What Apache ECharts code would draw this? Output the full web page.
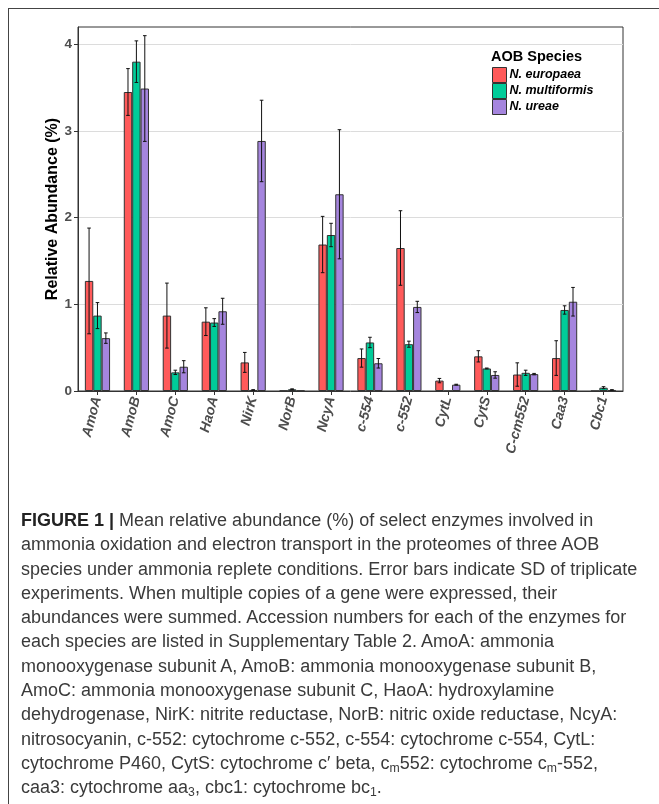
<!DOCTYPE html>
<html>
<head>
<meta charset="utf-8">
<script src="https://cdn.jsdelivr.net/npm/echarts@6/dist/echarts.min.js"></script>
<style>
  html, body { margin: 0; padding: 0; background: #fff; }
  #wrap { position: relative; width: 659px; height: 804px; overflow: hidden; background: #fff; }
  #frame { position: absolute; left: 8px; top: 8px; width: 760px; height: 900px; border: 1px solid #444; box-sizing: border-box; }
  #chart { position: absolute; left: 0; top: 0; width: 659px; height: 804px; }
  #caption { position: absolute; left: 21px; top: 508px; font-family: 'Liberation Sans', Arial, sans-serif; font-size: 18px; line-height: 24.3px; color: #3a3a3a; }
  #caption div { white-space: nowrap; }
  #caption b { font-weight: bold; color: #222; }
  #caption sub { font-size: 0.68em; vertical-align: -0.25em; line-height: 0; }
</style>
</head>
<body>
<div id="wrap">
  <div id="frame"></div>
  <div id="chart"></div>
  <div id="caption">
    <div><b>FIGURE 1 |</b> Mean relative abundance (%) of select enzymes involved in</div>
    <div>ammonia oxidation and electron transport in the proteomes of three AOB</div>
    <div>species under ammonia replete conditions. Error bars indicate SD of triplicate</div>
    <div>experiments. When multiple copies of a gene were expressed, their</div>
    <div>abundances were summed. Accession numbers for each of the enzymes for</div>
    <div>each species are listed in Supplementary Table 2. AmoA: ammonia</div>
    <div>monooxygenase subunit A, AmoB: ammonia monooxygenase subunit B,</div>
    <div>AmoC: ammonia monooxygenase subunit C, HaoA: hydroxylamine</div>
    <div>dehydrogenase, NirK: nitrite reductase, NorB: nitric oxide reductase, NcyA:</div>
    <div>nitrosocyanin, c-552: cytochrome c-552, c-554: cytochrome c-554, CytL:</div>
    <div>cytochrome P460, CytS: cytochrome c′ beta, c<sub>m</sub>552: cytochrome c<sub>m</sub>-552,</div>
    <div>caa3: cytochrome aa<sub>3</sub>, cbc1: cytochrome bc<sub>1</sub>.</div>
  </div>
</div>
<script>
// ---- data ----
const categories = ['AmoA','AmoB','AmoC','HaoA','NirK','NorB','NcyA','c-554','c-552','CytL','CytS','C-cm552','Caa3','Cbc1'];
const seriesNames = ['N. europaea','N. multiformis','N. ureae'];
const europaea      = [1.27, 3.45, 0.87, 0.80, 0.33, 0.003, 1.69, 0.38, 1.65, 0.12, 0.40, 0.19, 0.38, 0.0];
const europaeaSD    = [0.61, 0.27, 0.375, 0.16, 0.115, 0, 0.325, 0.105, 0.43, 0.025, 0.065, 0.135, 0.20, 0];
const multiformis   = [0.87, 3.80, 0.215, 0.79, 0.012, 0.02, 1.80, 0.56, 0.54, 0.0, 0.26, 0.21, 0.935, 0.038];
const multiformisSD = [0.15, 0.24, 0.025, 0.045, 0.003, 0.005, 0.135, 0.06, 0.035, 0, 0.005, 0.03, 0.048, 0.012];
const ureae         = [0.61, 3.49, 0.28, 0.92, 2.885, 0.003, 2.27, 0.32, 0.97, 0.073, 0.185, 0.195, 1.03, 0.012];
const ureaeSD       = [0.06, 0.61, 0.07, 0.15, 0.47, 0, 0.745, 0.055, 0.065, 0.005, 0.037, 0.008, 0.165, 0.003];
const yTicks = [0, 1, 2, 3, 4];

// ---- styles ----
const colors = ['#FF5A5A', '#00CC99', '#A585DE'];
const BAR_W = 8.4;
const FONT = "'Liberation Sans', Arial, sans-serif";

const means = [europaea, multiformis, ureae];
const sds = [europaeaSD, multiformisSD, ureaeSD];

function errRenderer(k) {
  return function (params, api) {
    const c = api.value(0), m = api.value(1), s = api.value(2);
    if (!(s > 0)) return;
    const base = api.coord([c, m]);
    const x = base[0] + (k - 1) * BAR_W;
    const yHi = api.coord([c, m + s])[1];
    const yLo = api.coord([c, m - s])[1];
    const cap = 1.8;
    const st = { stroke: '#111', lineWidth: 1 };
    return {
      type: 'group',
      children: [
        { type: 'line', shape: { x1: x, y1: yHi, x2: x, y2: yLo }, style: st },
        { type: 'line', shape: { x1: x - cap, y1: yHi, x2: x + cap, y2: yHi }, style: st },
        { type: 'line', shape: { x1: x - cap, y1: yLo, x2: x + cap, y2: yLo }, style: st }
      ]
    };
  };
}

const series = [];
for (let k = 0; k < 3; k++) {
  series.push({
    name: seriesNames[k],
    type: 'bar',
    data: means[k],
    barWidth: BAR_W,
    barGap: '0%',
    itemStyle: { color: colors[k], borderColor: '#333', borderWidth: 1 },
    emphasis: { disabled: true },
    z: 2
  });
}
for (let k = 0; k < 3; k++) {
  series.push({
    type: 'custom',
    name: 'err' + k,
    renderItem: errRenderer(k),
    data: means[k].map((m, i) => [i, m, sds[k][i]]),
    encode: { x: 0, y: 1 },
    z: 5,
    silent: true
  });
}

const chart = echarts.init(document.getElementById('chart'), null, { renderer: 'canvas' });
chart.setOption({
  animation: false,
  backgroundColor: 'transparent',
  textStyle: { fontFamily: FONT },
  title: {
    text: 'AOB Species',
    left: 491, top: 49, padding: 0,
    textStyle: { fontFamily: FONT, fontSize: 14.5, fontWeight: 'bold', color: '#000' }
  },
  legend: {
    data: seriesNames,
    orient: 'vertical',
    left: 492, top: 67, padding: 0,
    itemWidth: 14, itemHeight: 15, itemGap: 0,
    icon: 'rect',
    itemStyle: { borderColor: '#333', borderWidth: 1 },
    textStyle: { fontFamily: FONT, fontSize: 12.5, fontStyle: 'italic', fontWeight: 'bold', color: '#000', padding: [0, 0, 0, -2] }
  },
  grid: { left: 78, right: 36, top: 27, bottom: 413, show: true, borderColor: '#333', borderWidth: 1, backgroundColor: 'transparent' },
  xAxis: {
    type: 'category',
    data: categories,
    axisLine: { show: true, lineStyle: { color: '#333', width: 1 } },
    axisTick: { show: true, alignWithLabel: true, length: 4, lineStyle: { color: '#333' } },
    axisLabel: { rotate: 75, margin: 6, interval: 0, fontFamily: FONT, fontSize: 14, fontWeight: 'bold', fontStyle: 'italic', color: '#4d4d4d' },
    splitLine: { show: false }
  },
  yAxis: {
    type: 'value',
    min: 0, max: 4.2, interval: 1,
    name: 'Relative Abundance (%)',
    nameLocation: 'middle',
    nameGap: 17,
    nameMoveOverlap: false,
    nameTextStyle: { fontFamily: FONT, fontSize: 16, fontWeight: 'bold', color: '#000' },
    axisLine: { show: true, lineStyle: { color: '#333', width: 1 } },
    axisTick: { show: true, length: 4, lineStyle: { color: '#333' }, customValues: yTicks },
    axisLabel: { margin: 6, fontFamily: FONT, fontSize: 13.5, fontWeight: 'bold', color: '#4d4d4d', customValues: yTicks, formatter: v => String(v) },
    splitLine: { show: true, lineStyle: { color: '#dcdcdc', width: 1 } }
  },
  series: series
});
</script>
</body>
</html>
